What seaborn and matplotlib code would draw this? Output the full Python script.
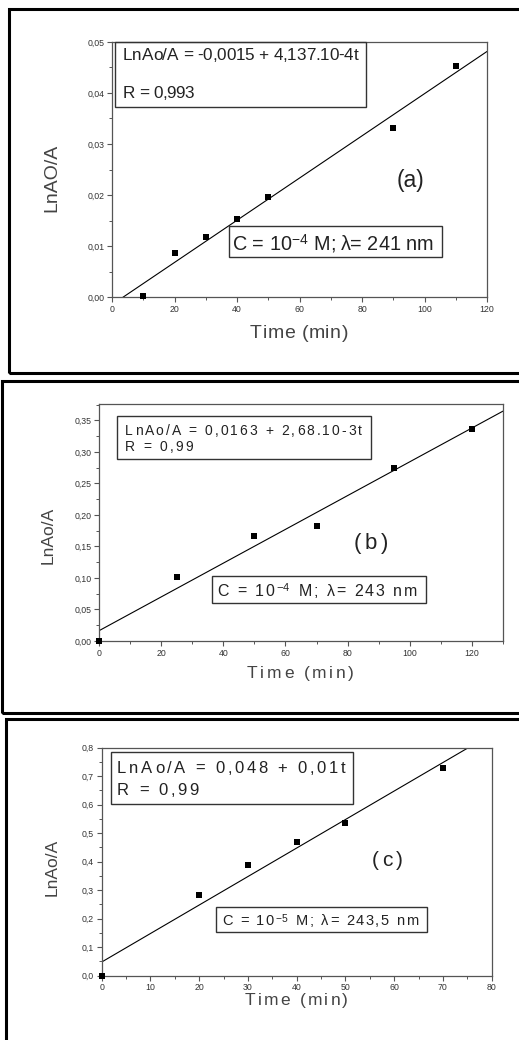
import re
import numpy as np
import pandas as pd
import matplotlib
matplotlib.use("Agg")
import matplotlib.pyplot as plt
import seaborn as sns
from matplotlib.patches import Rectangle
from matplotlib.ticker import MultipleLocator, FuncFormatter
from matplotlib.font_manager import FontProperties

# ---------------- data ----------------
time_a = [10, 20, 30, 40, 50, 90, 110]
lnA_a = [0.0002, 0.0087, 0.0117, 0.0153, 0.0197, 0.0331, 0.0452]
fit_a = (-0.0015, 4.137e-4)

time_b = [0, 25, 50, 70, 95, 120]
lnA_b = [0.0, 0.102, 0.167, 0.183, 0.275, 0.337]
fit_b = (0.0163, 2.68e-3)

time_c = [0, 20, 30, 40, 50, 70]
lnA_c = [0.0, 0.283, 0.387, 0.468, 0.537, 0.728]
fit_c = (0.048, 0.01)

eq_a = ["LnAo/A = -0,0015 + 4,137.10-4t", "R = 0,993"]
eq_b = ["LnAo/A = 0,0163 + 2,68.10-3t", "R = 0,99"]
eq_c = ["LnAo/A = 0,048 + 0,01t", "R = 0,99"]
cond_a = r"C = 10$^{-4}$ M; λ= 241 nm"
cond_b = r"C = 10$^{-4}$ M; λ= 243 nm"
cond_c = r"C = 10$^{-5}$ M; λ= 243,5 nm"
ylabels = ["LnAO/A", "LnAo/A", "LnAo/A"]
xlabel = "Time (min)"
tags = ["(a)", "(b)", "(c)"]

# ---------------- style ----------------
sns.set_style("white")
FAM = ["Liberation Sans", "DejaVu Sans"]
plt.rcParams["font.family"] = FAM
plt.rcParams["mathtext.fontset"] = "custom"
plt.rcParams["mathtext.rm"] = "Liberation Sans"
plt.rcParams["mathtext.it"] = "Liberation Sans"
plt.rcParams["mathtext.default"] = "rm"

W, H = 519, 1040
fig = plt.figure(figsize=(W / 100, H / 100), dpi=100)
fig.patch.set_facecolor("white")
renderer = fig.canvas.get_renderer()


def fx(x):
    return x / W


def fy(y):
    return 1 - y / H


def add_axes(l, t, r, b):
    return fig.add_axes([fx(l), fy(b), fx(r - l), (b - t) / H])


GRAY = "#444444"
SPINE = "#555555"
TXT = "#222222"


def style_axes(ax, xlim, ylim, xmaj, xmin, ymaj, ymin, ydec):
    ax.set_xlim(*xlim)
    ax.set_ylim(*ylim)
    ax.xaxis.set_major_locator(MultipleLocator(xmaj))
    ax.xaxis.set_minor_locator(MultipleLocator(xmin))
    ax.yaxis.set_major_locator(MultipleLocator(ymaj))
    ax.yaxis.set_minor_locator(MultipleLocator(ymin))
    ax.yaxis.set_major_formatter(FuncFormatter(lambda v, p: f"{v:.{ydec}f}".replace(".", ",")))
    ax.xaxis.set_major_formatter(FuncFormatter(lambda v, p: f"{v:.0f}"))
    ax.tick_params(which="major", direction="out", length=3.5, width=0.8, color=SPINE,
                   labelsize=6.3, labelcolor="#333333", pad=2, bottom=True, left=True)
    ax.tick_params(which="minor", direction="out", length=2, width=0.7, color=SPINE,
                   bottom=True, left=True)
    for s in ax.spines.values():
        s.set_color(SPINE)
        s.set_linewidth(0.9)
    ax.set_xlabel("")
    ax.set_ylabel("")


def draw_panel(ax, t, y, fit, xlim):
    df = pd.DataFrame({"t": t, "y": y})
    sns.scatterplot(data=df, x="t", y="y", ax=ax, marker="s", s=14, color="black",
                    edgecolor="black", linewidth=0, zorder=3, clip_on=False)
    xs = np.array([xlim[0], xlim[1]])
    line = pd.DataFrame({"t": xs, "y": fit[0] + fit[1] * xs})
    sns.lineplot(data=line, x="t", y="y", ax=ax, color="black", linewidth=0.8, zorder=2)


def box(l, t, r, b, lw=1.0):
    fig.add_artist(Rectangle((fx(l), fy(b)), fx(r - l), (b - t) / H, transform=fig.transFigure,
                             fill=False, edgecolor="#333333", linewidth=lw, zorder=5))


def frame(l, t, r, b):
    fig.add_artist(Rectangle((fx(l), fy(b)), fx(r - l), (b - t) / H, transform=fig.transFigure,
                             fill=False, edgecolor="black", linewidth=2.2, zorder=6, clip_on=False))


def txt(x, y, s, size, ha="left", va="center", rot=0, color=TXT):
    fig.text(fx(x), fy(y), s, fontsize=size, ha=ha, va=va, rotation=rot, color=color, zorder=7)


def tokenize(s):
    toks = []
    for part in re.split(r"(\$[^$]*\$)", s):
        if not part:
            continue
        if part.startswith("$"):
            toks.append(part)
        else:
            toks.extend(list(part))
    return toks


def tok_width(tok, size):
    prop = FontProperties(family=FAM, size=size)
    ismath = tok.startswith("$")
    s = "|" + tok + "|"
    w1, _, _ = renderer.get_text_width_height_descent(s, prop, ismath=ismath)
    w0, _, _ = renderer.get_text_width_height_descent("||", prop, ismath=False)
    return w1 - w0


def spaced(x, base, s, size, target, color=TXT):
    """Draw text s from left x at baseline 'base' (px), letter-spaced to span 'target' px."""
    toks = tokenize(s)
    widths = [tok_width(t, size) for t in toks]
    gap = (target - sum(widths)) / max(len(toks) - 1, 1)
    cur = x
    for t, w in zip(toks, widths):
        if t.strip():
            fig.text(fx(cur), fy(base), t, fontsize=size, ha="left", va="baseline",
                     color=color, zorder=7)
        cur += w + gap


# outer frames
frame(9, 9, 540, 373)
frame(2, 381, 540, 713)
frame(6, 719, 540, 1060)

# ---------- panel a ----------
ax_a = add_axes(112, 42, 487, 297)
draw_panel(ax_a, time_a, lnA_a, fit_a, (0, 120))
style_axes(ax_a, (0, 120), (0, 0.05), 20, 10, 0.01, 0.005, 2)
box(115, 42, 366, 107)
spaced(123, 60, eq_a[0], 12.3, 235)
spaced(123, 98, eq_a[1], 12.3, 71)
box(229, 226, 442, 257)
spaced(233, 250, cond_a, 14.3, 200)
txt(410, 181, tags[0], 16.5, ha="center")
txt(52, 178, ylabels[0], 14, ha="center", rot=90, color=GRAY)
spaced(250, 338, xlabel, 14, 98, color=GRAY)

# ---------- panel b ----------
ax_b = add_axes(99, 404, 503, 641)
draw_panel(ax_b, time_b, lnA_b, fit_b, (0, 130))
style_axes(ax_b, (0, 130), (0, 0.376), 20, 10, 0.05, 0.025, 2)
box(117, 416, 371, 459)
spaced(125, 435, eq_b[0], 10, 237)
spaced(125, 451, eq_b[1], 10, 68)
box(212, 576, 426, 603)
spaced(217, 596, cond_b, 11.5, 200)
spaced(354, 549, tags[1], 16, 34)
txt(48, 535, ylabels[1], 12.5, ha="center", rot=90, color=GRAY)
spaced(247, 678, xlabel, 12.5, 107, color=GRAY)

# ---------- panel c ----------
ax_c = add_axes(101.7, 747.7, 491.7, 975.7)
draw_panel(ax_c, time_c, lnA_c, fit_c, (0, 80))
style_axes(ax_c, (0, 80), (0, 0.8), 10, 5, 0.1, 0.05, 1)
box(111, 752, 353, 804)
spaced(117, 773, eq_c[0], 12, 228)
spaced(117, 795, eq_c[1], 12, 82)
box(216, 907, 427, 932)
spaced(222, 925, cond_c, 10.5, 196)
spaced(372, 866, tags[2], 15, 31)
txt(52, 867, ylabels[2], 12.5, ha="center", rot=90, color=GRAY)
spaced(245, 1005, xlabel, 12.5, 103, color=GRAY)

fig.savefig("out.png", dpi=100, facecolor="white")
